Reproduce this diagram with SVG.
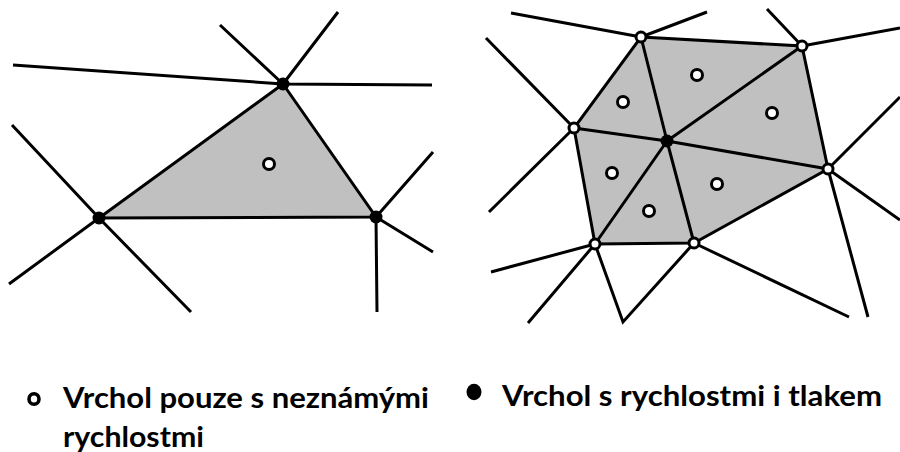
<svg xmlns="http://www.w3.org/2000/svg" width="900" height="452" viewBox="0 0 900 452">
<style>
.e{stroke:#000;stroke-width:3;fill:none;stroke-linecap:butt}
.cell{fill:#c0c0c0;stroke:none}
.open{fill:#fff;stroke:#000;stroke-width:3}
.full{fill:#000}
.lbl{font-family:Lato,"Liberation Sans",sans-serif;font-weight:bold;font-size:29px;fill:#000}
</style>
<rect width="900" height="452" fill="#fff"/>
<g id="cells">
<polygon class="cell" points="283,84 99,218 376,217"/>
<polygon class="cell" points="641,37 802,46 828,169 694,243 595,244 574,128"/>
</g>
<g id="connectors">
<path class="e" d="M283,84 L99,218 L376,217 Z"/>
<path class="e" d="M283,84 L13,65 M283,84 L220,25 M283,84 L338,12 M283,84 L432,85"/>
<path class="e" d="M99,218 L12,125 M99,218 L9,284 M99,218 L191,312"/>
<path class="e" d="M376,217 L433,152 M376,217 L433,252 M376,217 L377,312"/>
<path class="e" d="M641,37 L802,46 L828,169 L694,243 L595,244 L574,128 Z"/>
<path class="e" d="M667,141 L641,37 M667,141 L802,46 M667,141 L574,128 M667,141 L828,169 M667,141 L694,243 M667,141 L595,244"/>
<path class="e" d="M641,37 L511,13 M641,37 L707,12 M802,46 L767,9 M802,46 L900,28 M574,128 L486,38 M574,128 L489,212"/>
<path class="e" d="M828,169 L900,97 M828,169 L900,220 M828,169 L868,317"/>
<path class="e" d="M595,244 L491,272 M595,244 L528,323 M595,244 L623,322 L694,243 M694,243 L849,317"/>
</g>
<g id="node-left-top"><circle class="full" cx="283" cy="84" r="6.5"/></g>
<g id="node-left-left"><circle class="full" cx="99" cy="218" r="6.5"/></g>
<g id="node-left-right"><circle class="full" cx="376" cy="217" r="6.5"/></g>
<g id="node-left-center"><circle class="open" cx="269" cy="164" r="5.5"/></g>
<g id="node-A"><circle class="open" cx="641" cy="37" r="5"/></g>
<g id="node-B"><circle class="open" cx="802" cy="46" r="5"/></g>
<g id="node-C"><circle class="open" cx="574" cy="128" r="5"/></g>
<g id="node-D"><circle class="full" cx="667" cy="141" r="6.5"/></g>
<g id="node-E"><circle class="open" cx="828" cy="169" r="5"/></g>
<g id="node-F"><circle class="open" cx="595" cy="244" r="5"/></g>
<g id="node-G"><circle class="open" cx="694" cy="243" r="5"/></g>
<g id="cell-centers">
<circle class="open" cx="697" cy="75" r="5.5"/>
<circle class="open" cx="623" cy="102" r="5.5"/>
<circle class="open" cx="772" cy="113" r="5.5"/>
<circle class="open" cx="612" cy="173" r="5.5"/>
<circle class="open" cx="717" cy="184" r="5.5"/>
<circle class="open" cx="649" cy="211" r="5.5"/>
</g>
<g id="legend-open">
<ellipse cx="34" cy="399" rx="5" ry="5.3" fill="#fff" stroke="#000" stroke-width="3.6"/>
<text class="lbl" x="63" y="408" textLength="366" lengthAdjust="spacingAndGlyphs">Vrchol pouze s neznámými</text>
<text class="lbl" x="63" y="447" textLength="141" lengthAdjust="spacingAndGlyphs">rychlostmi</text>
</g>
<g id="legend-full">
<ellipse cx="474" cy="392" rx="7.5" ry="8.2" fill="#000"/>
<text class="lbl" x="502" y="406" textLength="380" lengthAdjust="spacingAndGlyphs">Vrchol s rychlostmi i tlakem</text>
</g>
</svg>
